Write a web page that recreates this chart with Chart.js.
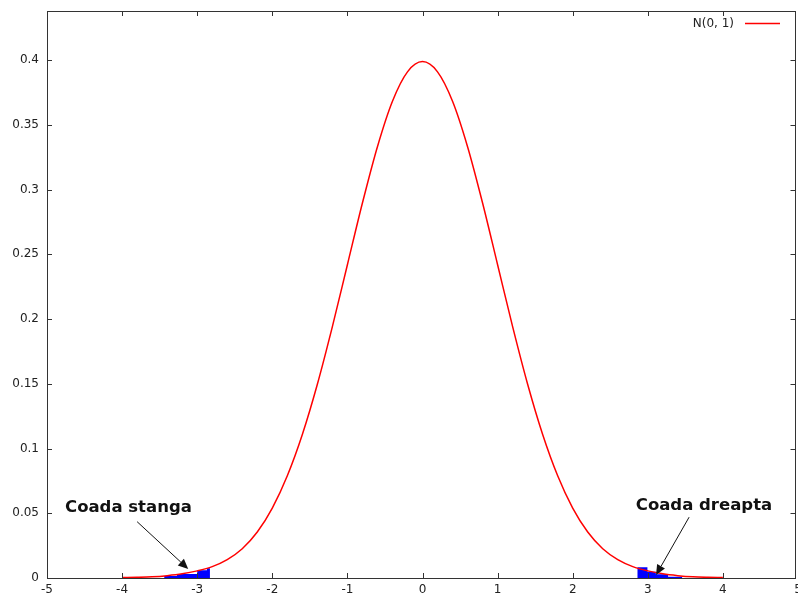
<!DOCTYPE html>
<html>
<head>
<meta charset="utf-8">
<script src="https://cdn.jsdelivr.net/npm/chart.js@4.4.1/dist/chart.umd.min.js"></script>
<style>
  body { margin: 0; background: #fff; }
  #wrap { width: 798px; height: 600px; }
</style>
</head>
<body>
<div id="wrap"><canvas id="normChart" width="798" height="600"></canvas></div>
<script>
// density curve N(0,1)
const xValues = [-4, -3.8, -3.6, -3.4, -3.2, -3, -2.8, -2.6, -2.4, -2.2, -2, -1.8, -1.6, -1.4, -1.2, -1, -0.8, -0.6, -0.4, -0.2,
                 0, 0.2, 0.4, 0.6, 0.8, 1, 1.2, 1.4, 1.6, 1.8, 2, 2.2, 2.4, 2.6, 2.8, 3, 3.2, 3.4, 3.6, 3.8, 4];
const yValues = [0.0003, 0.0005, 0.0009, 0.0018, 0.0032, 0.0055, 0.0088, 0.0142, 0.0226, 0.0355, 0.054, 0.079, 0.1109, 0.1497, 0.1942, 0.242, 0.2897, 0.3332, 0.3683, 0.391,
                 0.3989, 0.391, 0.3683, 0.3332, 0.2897, 0.242, 0.1942, 0.1497, 0.1109, 0.079, 0.054, 0.0355, 0.0226, 0.0142, 0.0088, 0.0055, 0.0032, 0.0018, 0.0009, 0.0005, 0.0003];

// blue tail steps (left edges + final edge)
const leftTailX = [-3.44, -3.27, -3.0, -2.87, -2.83];
const leftTailY = [0.0015, 0.003, 0.006, 0.0075, 0.0075];
const rightTailX = [2.86, 2.995, 3.107, 3.27, 3.46];
const rightTailY = [0.0083, 0.0049, 0.0029, 0.001, 0.001];

const xTicks = [-5, -4, -3, -2, -1, 0, 1, 2, 3, 4, 5];
const yTicks = [0, 0.05, 0.1, 0.15, 0.2, 0.25, 0.3, 0.35, 0.4];

const legendLabel = 'N(0, 1)';
const leftNote = { text: 'Coada stanga', x: -4.76, y: 0.0506, fromX: -3.8, fromY: 0.0435, toX: -3.12, toY: 0.007 };
const rightNote = { text: 'Coada dreapta', x: 2.84, y: 0.0525, fromX: 3.55, fromY: 0.047, toX: 3.11, toY: 0.0023 };

const toPts = (xs, ys) => xs.map((x, i) => ({ x: x, y: ys[i] }));

function drawArrow(ctx, x1, y1, x2, y2) {
    const ang = Math.atan2(y2 - y1, x2 - x1);
    const len = 10, half = 4.5;
    ctx.beginPath();
    ctx.moveTo(x1, y1);
    ctx.lineTo(x2 - Math.cos(ang) * len, y2 - Math.sin(ang) * len);
    ctx.stroke();
    ctx.beginPath();
    ctx.moveTo(x2, y2);
    ctx.lineTo(x2 - Math.cos(ang) * len - Math.sin(ang) * half, y2 - Math.sin(ang) * len + Math.cos(ang) * half);
    ctx.lineTo(x2 - Math.cos(ang) * len + Math.sin(ang) * half, y2 - Math.sin(ang) * len - Math.cos(ang) * half);
    ctx.closePath();
    ctx.fill();
}

// gnuplot-like frame, inward ticks, legend and labels
const framePlugin = {
    id: 'frame',
    afterDraw(chart) {
        const ctx = chart.ctx;
        const a = chart.chartArea;
        const xs = chart.scales.x, ys = chart.scales.y;
        ctx.save();
        ctx.strokeStyle = '#333';
        ctx.lineWidth = 1;
        ctx.strokeRect(a.left + 0.5, a.top + 0.5, a.right - a.left - 3, a.bottom - a.top);
        ctx.beginPath();
        xTicks.forEach(v => {
            const px = Math.round(xs.getPixelForValue(v)) + 0.5;
            ctx.moveTo(px, a.bottom); ctx.lineTo(px, a.bottom - 5);
            ctx.moveTo(px, a.top); ctx.lineTo(px, a.top + 5);
        });
        yTicks.forEach(v => {
            const py = Math.round(ys.getPixelForValue(v)) + 0.5;
            ctx.moveTo(a.left, py); ctx.lineTo(a.left + 5, py);
            ctx.moveTo(a.right - 2.5, py); ctx.lineTo(a.right - 7.5, py);
        });
        ctx.stroke();

        // legend
        ctx.font = '12px "DejaVu Sans"';
        ctx.fillStyle = '#222';
        ctx.textAlign = 'right';
        ctx.textBaseline = 'middle';
        ctx.fillText(legendLabel, 734, 24);
        ctx.strokeStyle = '#ff0000';
        ctx.lineWidth = 1.5;
        ctx.beginPath();
        ctx.moveTo(745, 23.5); ctx.lineTo(780, 23.5);
        ctx.stroke();

        // tail notes
        ctx.font = 'bold 16.5px "DejaVu Sans"';
        ctx.fillStyle = '#111';
        ctx.strokeStyle = '#111';
        ctx.lineWidth = 1;
        ctx.textAlign = 'left';
        ctx.textBaseline = 'alphabetic';
        [leftNote, rightNote].forEach(n => {
            ctx.fillText(n.text, xs.getPixelForValue(n.x), ys.getPixelForValue(n.y));
            drawArrow(ctx, xs.getPixelForValue(n.fromX), ys.getPixelForValue(n.fromY),
                xs.getPixelForValue(n.toX), ys.getPixelForValue(n.toY));
        });
        ctx.restore();
    }
};

const ctx = document.getElementById('normChart');

new Chart(ctx, {
    type: 'line',
    data: {
        datasets: [{
            label: legendLabel,
            data: toPts(xValues, yValues),
            borderColor: '#ff0000',
            borderWidth: 1.5,
            pointRadius: 0,
            cubicInterpolationMode: 'monotone',
            fill: false,
            order: 1
        }, {
            label: 'left tail',
            data: toPts(leftTailX, leftTailY),
            borderColor: '#0000ff',
            backgroundColor: '#0000ff',
            borderWidth: 0,
            pointRadius: 0,
            stepped: 'before',
            fill: 'origin',
            order: 2
        }, {
            label: 'right tail',
            data: toPts(rightTailX, rightTailY),
            borderColor: '#0000ff',
            backgroundColor: '#0000ff',
            borderWidth: 0,
            pointRadius: 0,
            stepped: 'before',
            fill: 'origin',
            order: 3
        }]
    },
    options: {
        responsive: false,
        animation: false,
        layout: { padding: { top: 11, right: 0, left: 0, bottom: 0 } },
        plugins: {
            legend: { display: false },
            tooltip: { enabled: false }
        },
        scales: {
            x: {
                type: 'linear',
                min: -5,
                max: 5,
                grid: { display: false, drawTicks: false },
                border: { display: false },
                afterFit: s => { s.height = 22; s.paddingLeft = 0; s.paddingRight = 0; },
                ticks: {
                    stepSize: 1,
                    padding: 5,
                    color: '#222',
                    font: { family: 'DejaVu Sans', size: 12 },
                    maxRotation: 0
                }
            },
            y: {
                min: 0,
                max: 0.438,
                grid: { display: false, drawTicks: false },
                border: { display: false },
                afterFit: s => { s.width = 47; s.paddingTop = 0; s.paddingBottom = 0; },
                ticks: {
                    stepSize: 0.05,
                    includeBounds: false,
                    padding: 8,
                    color: '#222',
                    font: { family: 'DejaVu Sans', size: 12 },
                    callback: v => String(+v.toFixed(2))
                }
            }
        }
    },
    plugins: [framePlugin]
});
</script>
</body>
</html>
